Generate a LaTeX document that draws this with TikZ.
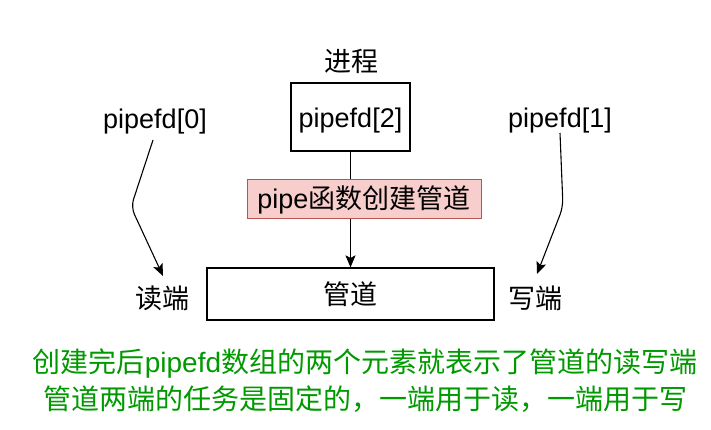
\documentclass[tikz,border=0pt]{standalone}
\usepackage{fontspec}
\setmainfont{Liberation Sans}
\newfontfamily\cjk{Noto Sans CJK SC}
\usetikzlibrary{arrows.meta}
\definecolor{labelfill}{HTML}{F8CECC}
\definecolor{labeldraw}{HTML}{B85450}
\definecolor{notegreen}{HTML}{009900}

\tikzset{
  txt/.style={inner sep=0pt, font=\fontsize{27}{32}\selectfont},
  box/.style={draw, line width=1.2pt, inner sep=0pt, font=\fontsize{27}{32}\selectfont},
  link/.style={line width=1.1pt, -{Stealth[length=12pt, width=10pt, inset=2.5pt]}}
}

\begin{document}
\begin{tikzpicture}[x=1pt, y=-1pt]
      \useasboundingbox (0,0) rectangle (711,430);

      \node[txt] (proc) at (351,61) {\cjk 进程};
      \node[box, minimum width=119pt, minimum height=68pt, text height=24pt, text depth=2pt] (fd2) at (350.5,117) {pipefd[2]};
      \node[txt] (fd0) at (155,122) {pipefd[0]};
      \node[txt] (fd1) at (560,121) {pipefd[1]};
      \node[box, minimum width=287pt, minimum height=52pt] (pipe) at (350.5,294) {\cjk 管道};
      \node[txt] (rd) at (162,298) {\cjk 读端};
      \node[txt] (wr) at (535,298) {\cjk 写端};

      \coordinate (rdtip) at (163,276);
      \coordinate (wrtip) at (537,274);
      \coordinate (fd0top) at (153,140);
      \coordinate (fd1top) at (560,133);

      \draw[link] (fd2) -- (pipe);
      \node[draw=labeldraw, fill=labelfill, line width=1pt, inner sep=0pt,
        minimum width=234pt, minimum height=39pt, font=\fontsize{27}{32}\selectfont]
        (create) at (364,199.5) {pipe{\cjk 函数创建管道}};

      \draw[link, rounded corners=8pt] (fd0top) -- (131,207) -- (rdtip);
      \draw[link, rounded corners=8pt] (fd1top) -- (563,207) -- (wrtip);

      \node[txt, text=notegreen, align=center, font=\fontsize{28}{37}\selectfont] (note) at (365,381)
        {{\cjk 创建完后}pipefd{\cjk 数组的两个元素就表示了管道的读写端}\\
         {\cjk 管道两端的任务是固定的，一端用于读，一端用于写}};
\end{tikzpicture}
\end{document}
